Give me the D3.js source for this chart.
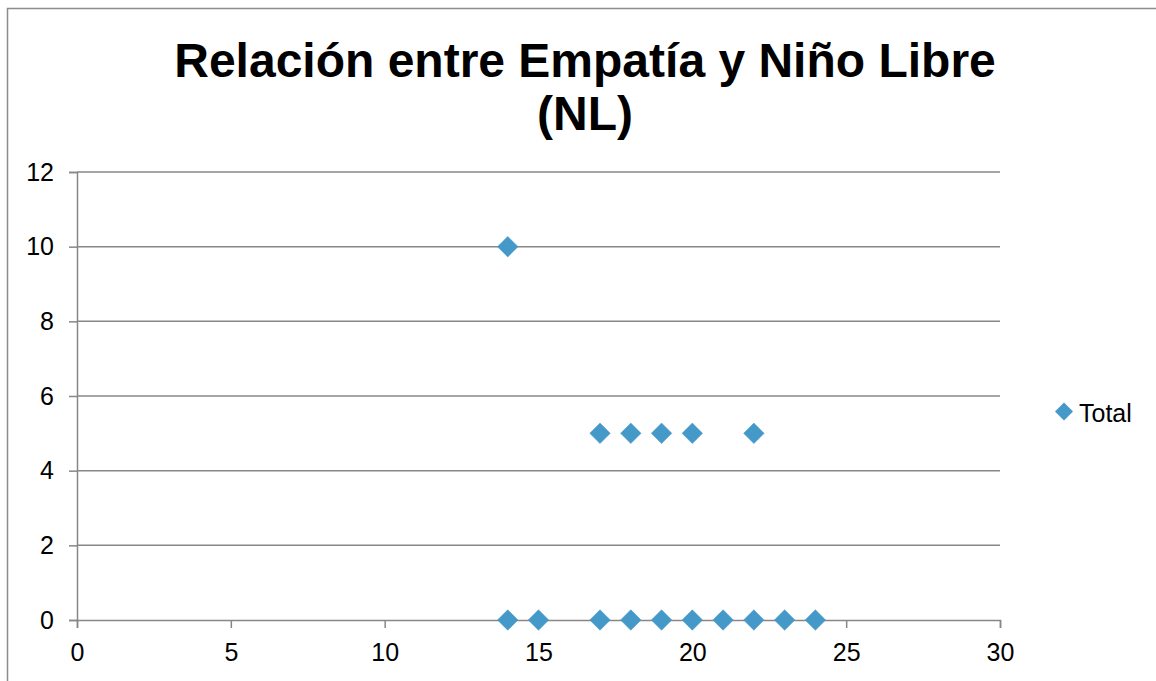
<!DOCTYPE html>
<html>
<head>
<meta charset="utf-8">
<script src="https://cdn.jsdelivr.net/npm/d3@7"></script>
<style>
  html, body { margin: 0; padding: 0; background: #ffffff; }
  svg { display: block; }
  text { font-family: "Liberation Sans", Arial, sans-serif; fill: #000; }
</style>
</head>
<body>
<svg id="chart" width="1156" height="681"></svg>
<script>
// Empatía (x) vs Niño Libre (y) scores
const empatia    = [14, 17, 18, 19, 20, 22, 14, 15, 17, 18, 19, 20, 21, 22, 23, 24];
const ninoLibre  = [10, 5, 5, 5, 5, 5, 0, 0, 0, 0, 0, 0, 0, 0, 0, 0];
const xTicks = [0, 5, 10, 15, 20, 25, 30];
const yTicks = [0, 2, 4, 6, 8, 10, 12];
const titleLines = ["Relación entre Empatía y Niño Libre", "(NL)"];
const seriesName = "Total";

const svg = d3.select("#chart");
const W = 1156, H = 681;
const plot = { left: 77, right: 1000, top: 172, bottom: 620 };
const markColor = "#4599c8";
const gridColor = "#878787";

// outer chart frame
svg.append("rect")
  .attr("x", 7.5).attr("y", 8.5)
  .attr("width", W).attr("height", H)
  .attr("fill", "#fff").attr("stroke", "#8c8c8c").attr("stroke-width", 1.5);

const x = d3.scaleLinear().domain([0, 30]).range([plot.left, plot.right]);
const y = d3.scaleLinear().domain([0, 12]).range([plot.bottom, plot.top]);

// title
svg.append("text")
  .attr("x", 585).attr("y", 77)
  .attr("text-anchor", "middle")
  .style("font-size", "48px").style("font-weight", "bold")
  .selectAll("tspan").data(titleLines).join("tspan")
  .attr("x", 585).attr("dy", (d, i) => i === 0 ? 0 : 53)
  .text(d => d);

// horizontal gridlines
svg.append("g")
  .selectAll("line").data(yTicks.filter(t => t !== 0)).join("line")
  .attr("x1", plot.left).attr("x2", plot.right)
  .attr("y1", d => y(d)).attr("y2", d => y(d))
  .attr("stroke", gridColor).attr("stroke-width", 1.5);

// y axis
const yAxis = svg.append("g")
  .attr("transform", `translate(${plot.left},0)`)
  .call(d3.axisLeft(y).tickValues(yTicks).tickSize(8).tickPadding(15).tickFormat(d3.format("d")));
// x axis
const xAxis = svg.append("g")
  .attr("transform", `translate(0,${plot.bottom})`)
  .call(d3.axisBottom(x).tickValues(xTicks).tickSize(8).tickPadding(15).tickFormat(d3.format("d")));

[yAxis, xAxis].forEach(a => {
  a.attr("font-size", null).attr("font-family", null);
  a.select(".domain").attr("stroke", gridColor).attr("stroke-width", 1.5);
  a.selectAll(".tick line").attr("stroke", gridColor).attr("stroke-width", 1.5);
  a.selectAll(".tick text")
    .style("font-family", "'Liberation Sans', Arial, sans-serif")
    .style("font-size", "25px").attr("fill", "#000");
});

// diamond markers
const diamond = d3.symbol().type(d3.symbolSquare).size(14.5 * 14.5);
const pts = empatia.map((v, i) => ({ x: v, y: ninoLibre[i] }));
svg.append("g")
  .selectAll("path").data(pts).join("path")
  .attr("d", diamond)
  .attr("transform", d => `translate(${x(d.x)},${y(d.y)}) rotate(45)`)
  .attr("fill", markColor)
  .attr("stroke", "#4a9bc9").attr("stroke-width", 0.5);

// legend
const lg = svg.append("g").attr("transform", "translate(1064,411.5)");
lg.append("path")
  .attr("d", d3.symbol().type(d3.symbolSquare).size(12.7 * 12.7))
  .attr("transform", "rotate(45)")
  .attr("fill", markColor);
lg.append("text")
  .attr("x", 15).attr("y", 10)
  .style("font-size", "25px")
  .text(seriesName);
</script>
</body>
</html>
